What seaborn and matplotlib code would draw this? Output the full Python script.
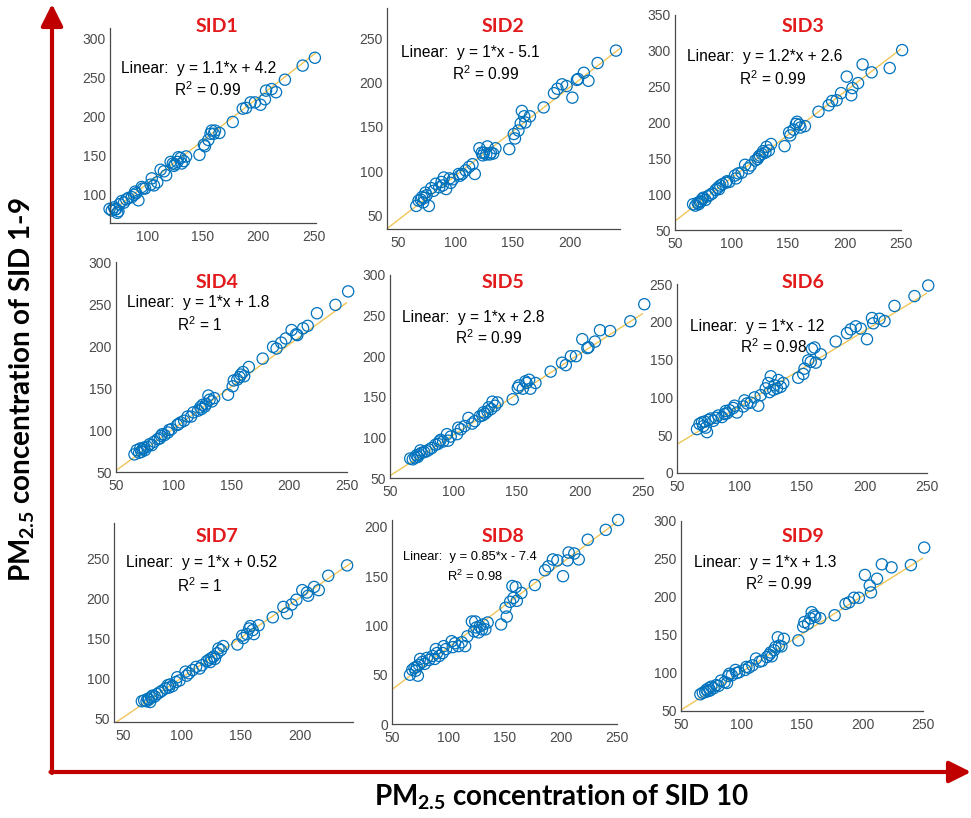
import matplotlib
matplotlib.use("Agg")
import matplotlib.pyplot as plt
import seaborn as sns
import numpy as np
import pandas as pd
from matplotlib.patches import FancyArrowPatch

# ---------------- data ----------------
x_sid10 = [66, 68, 70, 71, 72, 73, 74, 75, 77, 79, 81, 83, 86, 88, 89, 90, 92, 95, 96, 98,
           103, 104, 106, 109, 112, 115, 117, 121, 123, 124, 125, 127, 128, 130, 131, 133, 135, 147, 151, 152,
           155, 157, 158, 160, 161, 165, 177, 186, 189, 193, 197, 202, 206, 207, 212, 216, 224, 240, 251]

sid1_y = [82, 80, 84, 81, 82, 77, 79, 88, 92, 90, 94, 96, 97, 100, 104, 102, 93, 110, 108, 108,
          113, 121, 112, 116, 132, 130, 125, 142, 140, 137, 139, 142, 148, 147, 140, 143, 149, 151, 164, 162,
          170, 178, 182, 178, 182, 179, 193, 210, 211, 218, 218, 215, 222, 233, 235, 231, 247, 265, 275]
sid2_y = [61, 67, 68, 71, 65, 70, 76, 73, 61, 81, 78, 86, 82, 88, 84, 93, 80, 92, 87, 91,
          97, 95, 97, 101, 105, 108, 97, 126, 121, 118, 121, 119, 128, 119, 121, 120, 126, 125, 142, 137,
          146, 154, 168, 162, 155, 162, 172, 188, 193, 198, 196, 183, 203, 204, 211, 202, 222, 236]
sid3_y = [86, 84, 88, 86, 89, 90, 93, 95, 92, 97, 99, 101, 106, 109, 107, 112, 114, 116, 118, 117,
          126, 122, 129, 130, 141, 136, 140, 147, 149, 152, 154, 156, 160, 158, 166, 161, 170, 167, 186, 182,
          190, 198, 201, 197, 193, 195, 215, 224, 230, 231, 241, 264, 238, 248, 255, 281, 270, 276, 301]
sid4_y = [71, 76, 73, 78, 74, 77, 79, 76, 80, 83, 82, 86, 89, 90, 93, 95, 94, 97, 100, 101,
          106, 107, 109, 111, 116, 116, 121, 123, 127, 125, 130, 128, 131, 141, 136, 134, 138, 142, 152, 159,
          160, 163, 166, 169, 164, 175, 185, 199, 197, 204, 209, 219, 214, 213, 221, 224, 239, 249, 265]
sid5_y = [74, 73, 75, 78, 76, 79, 84, 81, 82, 83, 85, 87, 91, 92, 95, 97, 95, 104, 96, 101,
          104, 112, 110, 114, 124, 117, 120, 126, 127, 131, 129, 132, 137, 135, 144, 139, 143, 147, 161, 164,
          160, 169, 167, 171, 160, 167, 181, 192, 189, 200, 200, 221, 210, 211, 218, 232, 231, 243, 264]
sid6_y = [58, 65, 67, 62, 68, 60, 54, 70, 72, 69, 73, 76, 74, 78, 82, 79, 83, 86, 89, 80,
          88, 96, 92, 93, 100, 89, 103, 112, 119, 107, 128, 110, 116, 112, 123, 114, 119, 126, 131, 138,
          149, 147, 164, 166, 146, 157, 174, 185, 190, 194, 191, 177, 205, 198, 204, 201, 221, 234, 248]
sid7_y = [71, 72, 71, 74, 73, 70, 76, 78, 77, 80, 82, 84, 87, 91, 88, 92, 90, 95, 101, 97,
          108, 103, 106, 110, 114, 112, 116, 121, 123, 120, 125, 127, 124, 131, 137, 135, 140, 142, 153, 150,
          155, 162, 165, 160, 155, 166, 176, 189, 181, 192, 198, 210, 207, 203, 214, 210, 228, 241]
sid8_y = [50, 55, 57, 54, 58, 49, 60, 66, 63, 61, 67, 65, 69, 66, 76, 72, 69, 72, 79, 76,
          84, 78, 82, 79, 83, 79, 89, 104, 94, 104, 98, 93, 99, 96, 101, 96, 103, 101, 118, 109,
          124, 140, 128, 139, 125, 133, 141, 156, 160, 167, 166, 150, 166, 174, 173, 167, 187, 197, 207]
sid9_y = [72, 74, 75, 78, 76, 80, 77, 82, 80, 84, 83, 90, 88, 87, 96, 99, 97, 104, 100, 101,
          104, 108, 107, 110, 119, 115, 116, 121, 124, 127, 122, 130, 134, 147, 136, 135, 145, 143, 161, 167,
          165, 172, 180, 176, 174, 172, 176, 191, 193, 199, 199, 229, 215, 206, 224, 243, 239, 242, 265]

titles = ["SID1", "SID2", "SID3", "SID4", "SID5", "SID6", "SID7", "SID8", "SID9"]
slopes = [1.1, 1.0, 1.2, 1.0, 1.0, 1.0, 1.0, 0.85, 1.0]
intercepts = [4.2, -5.1, 2.6, 1.8, 2.8, -12, 0.52, -7.4, 1.3]
eq_labels = ["Linear:  y = 1.1*x + 4.2", "Linear:  y = 1*x - 5.1", "Linear:  y = 1.2*x + 2.6",
             "Linear:  y = 1*x + 1.8", "Linear:  y = 1*x + 2.8", "Linear:  y = 1*x - 12",
             "Linear:  y = 1*x + 0.52", "Linear:  y = 0.85*x - 7.4", "Linear:  y = 1*x + 1.3"]
r2_values = ["0.99", "0.99", "0.99", "1", "0.99", "0.98", "1", "0.98", "0.99"]
y_series = [sid1_y, sid2_y, sid3_y, sid4_y, sid5_y, sid6_y, sid7_y, sid8_y, sid9_y]

xtick_sets = [[100, 150, 200, 250], [50, 100, 150, 200], [50, 100, 150, 200, 250],
              [50, 100, 150, 200, 250], [50, 100, 150, 200, 250], [50, 100, 150, 200, 250],
              [50, 100, 150, 200], [50, 100, 150, 200, 250], [50, 100, 150, 200, 250]]
ytick_sets = [[100, 150, 200, 250, 300], [50, 100, 150, 200, 250], [50, 100, 150, 200, 250, 300, 350],
              [50, 100, 150, 200, 250, 300], [50, 100, 150, 200, 250, 300], [0, 50, 100, 150, 200, 250],
              [50, 100, 150, 200, 250], [0, 50, 100, 150, 200], [50, 100, 150, 200, 250, 300]]

# ---------------- layout (pixels) ----------------
W, H = 971, 818
rects = [(110, 28, 316, 223), (387, 8, 620, 229), (675, 15, 901, 230),
         (116, 262, 347, 472), (390, 275, 643, 478), (677, 284, 927, 473),
         (114, 523, 353, 722), (392, 520, 617, 724), (681, 521, 923, 711)]
xlims = [(66.4, 252), (40.5, 243.5), (50, 250), (50, 250), (50, 250), (50, 250),
         (42.4, 245), (50, 250), (50, 250)]
ylims = [(64, 313), (35, 284), (50, 350), (50, 300), (50, 300), (0, 250),
         (45, 294), (0, 207), (50, 300)]
title_pos = [(217, 27), (503, 27), (803, 27), (217, 282), (503, 282), (803, 282),
             (217, 537), (503, 537), (803, 537)]
eq_pos = [(199, 68), (470, 52), (765, 57), (198, 303), (473, 317), (757, 326),
          (202, 563), (470, 557), (765, 562)]
r2_pos = [(207, 90), (485, 74), (772, 79), (200, 325), (488, 338), (773, 347),
          (200, 586), (475, 576), (778, 584)]
eq_sizes = [11.2, 11.2, 11.2, 11.2, 11.2, 11.2, 11.2, 9.3, 11.2]


def fx(px):
    return px / W


def fy(py):
    return 1 - py / H


sns.set_style("white")
plt.rcParams['font.family'] = ['Liberation Sans', 'DejaVu Sans']
plt.rcParams['mathtext.fontset'] = 'custom'
plt.rcParams['mathtext.rm'] = 'Lato'
plt.rcParams['mathtext.bf'] = 'Lato:bold'
plt.rcParams['mathtext.sf'] = 'Liberation Sans'

fig = plt.figure(figsize=(W / 100, H / 100), dpi=100)
fig.patch.set_facecolor('white')

axis_col = '#4a4a4a'
for i in range(9):
    l, t, r, b = rects[i]
    ax = fig.add_axes([fx(l), fy(b), (r - l) / W, (b - t) / H])
    ax.set_facecolor('none')
    ys = y_series[i]
    n = min(len(ys), len(x_sid10))
    df = pd.DataFrame({"x": x_sid10[:n], "y": ys[:n]})
    xl = np.array(xlims[i])
    ax.plot(xl, slopes[i] * xl + intercepts[i], color='#EDB120', lw=1.0, alpha=0.75, zorder=1)
    sns.scatterplot(data=df, x="x", y="y", ax=ax, marker='o', s=65,
                    facecolors='none', edgecolor='#0072BD', linewidth=0.9, zorder=2,
                    clip_on=False)
    ax.set_xlim(*xlims[i])
    ax.set_ylim(*ylims[i])
    ax.set_xticks(xtick_sets[i])
    ax.set_yticks(ytick_sets[i])
    ax.set_xlabel("")
    ax.set_ylabel("")
    for s in ['top', 'right']:
        ax.spines[s].set_visible(False)
    for s in ['left', 'bottom']:
        ax.spines[s].set_color(axis_col)
        ax.spines[s].set_linewidth(0.9)
    ax.tick_params(direction='in', length=3, width=0.7, color=axis_col,
                   labelcolor=axis_col, labelsize=10)
    ax.tick_params(axis='x', pad=5)
    ax.tick_params(axis='y', pad=3)

    fig.text(fx(title_pos[i][0]), fy(title_pos[i][1]), titles[i], ha='center', va='center',
             fontsize=14, fontweight='bold', color='#E31A1C', family=['Lato', 'DejaVu Sans'])
    fig.text(fx(eq_pos[i][0]), fy(eq_pos[i][1]), eq_labels[i], ha='center', va='center',
             fontsize=eq_sizes[i], color='black')
    fig.text(fx(r2_pos[i][0]), fy(r2_pos[i][1]), r"R$^{\mathsf{2}}$ = " + r2_values[i],
             ha='center', va='center', fontsize=eq_sizes[i], color='black')

# big axis arrows
arrow_col = '#C00000'
va = FancyArrowPatch((fx(52), fy(773)), (fx(52), fy(4)), transform=fig.transFigure,
                     arrowstyle='-|>,head_length=0.6,head_width=0.3', mutation_scale=22,
                     lw=3, color=arrow_col, shrinkA=0, shrinkB=0)
ha_ = FancyArrowPatch((fx(50.5), fy(772)), (fx(971), fy(772)), transform=fig.transFigure,
                      arrowstyle='-|>,head_length=0.6,head_width=0.3', mutation_scale=22,
                      lw=3, color=arrow_col, shrinkA=0, shrinkB=0)
fig.add_artist(va)
fig.add_artist(ha_)

fig.text(fx(562), fy(797), r"PM$_\mathbf{2.5}$ concentration of SID 10", ha='center', va='center',
         fontsize=20, fontweight='bold', color='black', family=['Lato', 'DejaVu Sans'])
fig.text(fx(22), fy(390), r"PM$_\mathbf{2.5}$ concentration of SID 1-9", ha='center', va='center',
         rotation=90, fontsize=20, fontweight='bold', color='black', family=['Lato', 'DejaVu Sans'])

fig.savefig("out.png", dpi=100, facecolor='white')
